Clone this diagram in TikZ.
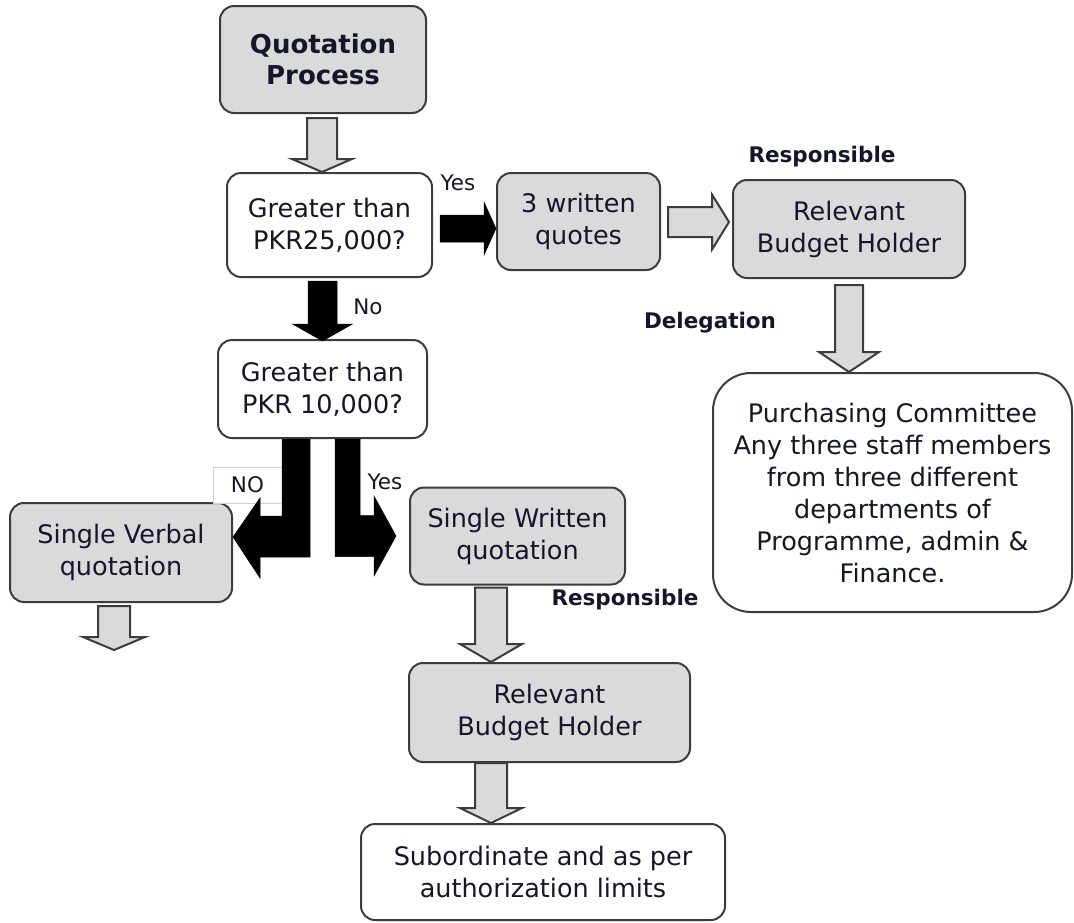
\documentclass[tikz,border=0pt]{standalone}
\usepackage{fontspec}
\setmainfont{DejaVu Sans}
\usetikzlibrary{positioning,calc}
\definecolor{boxfill}{RGB}{218,218,218}
\definecolor{boxline}{RGB}{60,60,60}
\definecolor{txtcol}{RGB}{22,22,42}

% block arrow pointing down: style, from, to, shaft half width, head half width, head length
\newcommand{\vblockarrow}[6]{%
	\path[#1] let \p1=(#2), \p2=(#3) in
	(\x1-#4,\y1) -- (\x1+#4,\y1) -- (\x1+#4,\y2+#6) -- (\x1+#5,\y2+#6) -- (\x1,\y2)
	-- (\x1-#5,\y2+#6) -- (\x1-#4,\y2+#6) -- cycle;}
% block arrow pointing right
\newcommand{\hblockarrow}[6]{%
	\path[#1] let \p1=(#2), \p2=(#3) in
	(\x1,\y1+#4) -- (\x2-#6,\y1+#4) -- (\x2-#6,\y1+#5) -- (\x2,\y1) -- (\x2-#6,\y1-#5)
	-- (\x2-#6,\y1-#4) -- (\x1,\y1-#4) -- cycle;}

\begin{document}
\begin{tikzpicture}[x=1pt,y=-1pt,
	greybox/.style={rectangle, rounded corners=14pt, draw=boxline, line width=2pt,
	fill=boxfill, text=txtcol, align=center, inner sep=0pt,
	font=\fontsize{25.5}{32}\selectfont},
	whitebox/.style={greybox, fill=white},
	greyarrow/.style={draw=boxline, line width=2pt, fill=boxfill, line join=miter},
	blackarrow/.style={draw=black, fill=black, line width=0.5pt, line join=miter},
	lbl/.style={text=txtcol, inner sep=0pt, font=\fontsize{21.5}{24}\selectfont\bfseries},
	yn/.style={text=txtcol, inner sep=0pt, font=\fontsize{21.5}{24}\selectfont}
	]
	\useasboundingbox (0,0) rectangle (1074,922);
	
	\node[greybox, minimum width=206, minimum height=107,
	font=\fontsize{26}{31}\selectfont\bfseries] (qp) at (323,59.5) {Quotation\\Process};
	\node[whitebox, minimum width=205, minimum height=104] (gt25) at (329.5,225) {Greater than\\PKR25,000?};
	\node[greybox, minimum width=163, minimum height=97] (wq3) at (578.5,221.5) {3 written\\quotes};
	\node[greybox, minimum width=232, minimum height=98] (rbh1) at (849,229) {Relevant\\Budget Holder};
	\node[whitebox, rounded corners=38pt, minimum width=359, minimum height=239] (pc) at (892.5,492.5)
	{Purchasing Committee\\Any three staff members\\from three different\\departments of\\Programme, admin \&\\Finance.};
	\node[whitebox, minimum width=209, minimum height=98] (gt10) at (322.5,389) {Greater than\\PKR 10,000?};
	\node[greybox, minimum width=222, minimum height=99] (svq) at (121,552.5) {Single Verbal\\quotation};
	\node[greybox, minimum width=215, minimum height=97] (swq) at (517.5,536) {Single Written\\quotation};
	\node[greybox, minimum width=281, minimum height=99] (rbh2) at (549.5,712.5) {Relevant\\Budget Holder};
	\node[whitebox, minimum width=364, minimum height=96] (sub) at (543,872) {Subordinate and as per\\authorization limits};
	\coordinate (svqend) at (114,650);
	
	% labels
	\node[lbl] (resp1) at (822,157) {Responsible};
	\node[lbl] (deleg) at (710,323) {Delegation};
	\node[lbl] (resp2) at (625,600) {Responsible};
	\node[yn] (yes1) at (458,183) {Yes};
	\node[yn] (no1) at (368,307) {No};
	\node[yn] (yes2) at (385,482) {Yes};
	\node[yn, draw=black!18, line width=0.8pt, fill=white, minimum width=69, minimum height=36] (no2) at (247.5,485) {NO};
	
	% grey arrows
	\vblockarrow{greyarrow}{$(qp.south)+(-1,4)$}{gt25.north}{15pt}{30pt}{13pt}
	\hblockarrow{greyarrow}{$(wq3.east)+(7,0.5)$}{$(rbh1.west)+(-3,0)$}{15pt}{27.5pt}{17pt}
	\vblockarrow{greyarrow}{$(rbh1.south)+(0,6)$}{pc.north}{14pt}{30pt}{20pt}
	\vblockarrow{greyarrow}{$(svq.south)+(-7,3)$}{svqend}{16pt}{31pt}{13pt}
	\vblockarrow{greyarrow}{$(swq.south)+(-26.5,2)$}{rbh2.north}{16pt}{31pt}{18pt}
	\vblockarrow{greyarrow}{$(rbh2.south)+(-58.5,0)$}{sub.north}{16pt}{31pt}{15pt}
	
	% black arrows
	\hblockarrow{blackarrow}{$(gt25.east)+(7,3.5)$}{wq3.west}{13.5pt}{26.5pt}{12pt}
	\vblockarrow{blackarrow}{$(gt10.north|-gt25.south)+(0,3)$}{$(gt10.north)+(0,2)$}{14.5pt}{30pt}{17pt}
	\path[blackarrow] let \p1=(gt10.south), \p2=(svq.east) in
	(\x1-40.5pt,\y1) -- (\x1-12.5pt,\y1) -- (\x1-12.5pt,\y2-4.5pt) -- (\x2+27pt,\y2-4.5pt)
	-- (\x2+27pt,\y2-25.5pt) -- (\x2,\y2+15.5pt) -- (\x2+27pt,\y2+54.5pt)
	-- (\x2+27pt,\y2+36.5pt) -- (\x1-40.5pt,\y2+36.5pt) -- cycle;
	\path[blackarrow] let \p1=(gt10.south), \p2=(swq.west) in
	(\x1+12.5pt,\y1) -- (\x1+37.5pt,\y1) -- (\x1+37.5pt,\y2+20.5pt) -- (\x2-35pt,\y2+20.5pt)
	-- (\x2-35pt,\y2+40pt) -- (\x2-13pt,\y2) -- (\x2-35pt,\y2-40pt)
	-- (\x2-35pt,\y2-20.5pt) -- (\x1+12.5pt,\y2-20.5pt) -- cycle;
\end{tikzpicture}
\end{document}
